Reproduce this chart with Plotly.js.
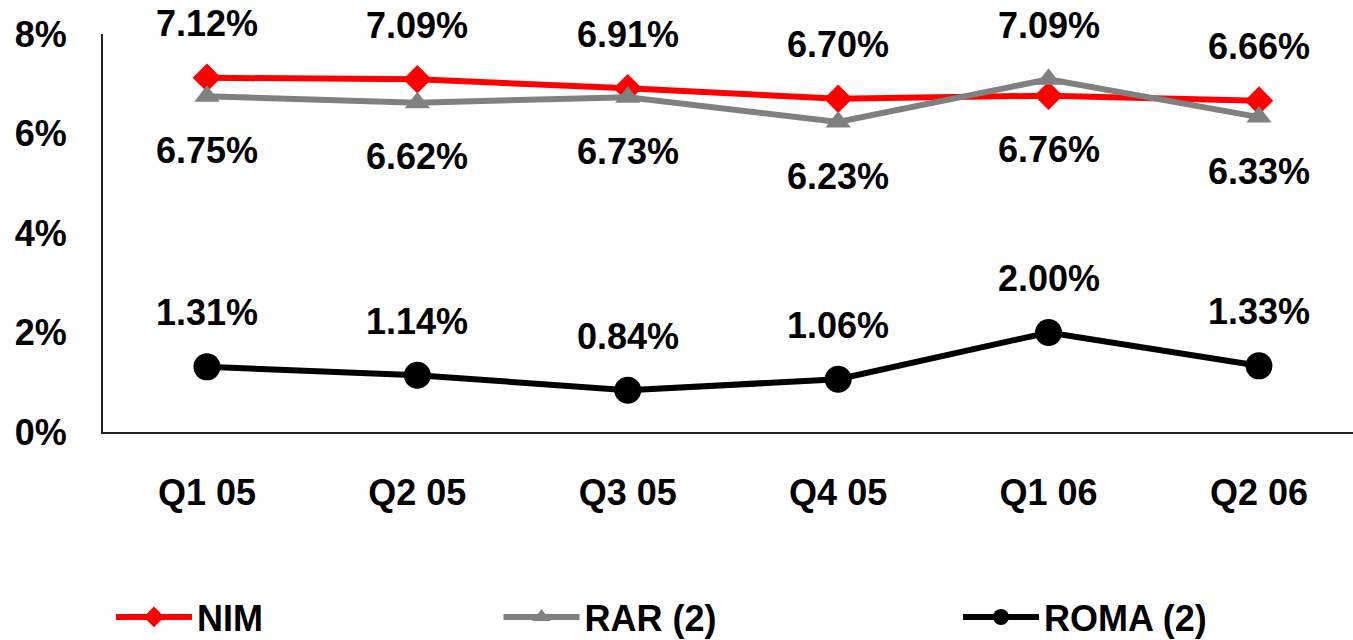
<!DOCTYPE html>
<html>
<head>
<meta charset="utf-8">
<script src="https://cdn.plot.ly/plotly-3.0.1.min.js"></script>
<style>
  html, body { margin: 0; padding: 0; background: #fff; }
  #chart { width: 1353px; height: 640px; }
</style>
</head>
<body>
<div id="chart"></div>
<script>
// Quarterly margin ratios (percent)
const quarters = ['Q1 05', 'Q2 05', 'Q3 05', 'Q4 05', 'Q1 06', 'Q2 06'];
const nim  = [7.12, 7.09, 6.91, 6.70, 6.76, 6.66];
const rar  = [6.75, 6.62, 6.73, 6.23, 7.09, 6.33];
const roma = [1.31, 1.14, 0.84, 1.06, 2.00, 1.33];
const yTickVals = [0, 2, 4, 6, 8];
const yTickText = ['0%', '2%', '4%', '6%', '8%'];

// Label placement per point: +1 above the marker, -1 below
const nimSide  = [1, 1, 1, 1, -1, 1];
const rarSide  = [-1, -1, -1, -1, 1, -1];
const romaSide = [1, 1, 1, 1, 1, 1];

const FONT = 'Liberation Sans, Arial, sans-serif';
const FS = 36;
const LABEL_GAP = 54;

const traces = [
  {
    x: quarters, y: nim, name: 'NIM', type: 'scatter', mode: 'lines+markers',
    line: { color: '#FF0000', width: 6 },
    marker: { symbol: 'diamond', size: 22, color: '#FF0000' },
    legend: 'legend'
  },
  {
    x: quarters, y: rar, name: 'RAR (2)', type: 'scatter', mode: 'lines+markers',
    line: { color: '#808080', width: 6 },
    marker: { symbol: 'triangle-up', size: 22, color: '#808080' },
    legend: 'legend2'
  },
  {
    x: quarters, y: roma, name: 'ROMA (2)', type: 'scatter', mode: 'lines+markers',
    line: { color: '#000000', width: 6 },
    marker: { symbol: 'circle', size: 27, color: '#000000' },
    legend: 'legend3'
  }
];

// Value labels next to each marker
function labels(values, sides) {
  return values.map((v, i) => ({
    x: quarters[i], y: v, xref: 'x', yref: 'y',
    text: v.toFixed(2) + '%',
    showarrow: false,
    yshift: sides[i] * LABEL_GAP,
    font: { family: FONT, size: FS, weight: 'bold', color: '#000' }
  }));
}
const annotations = [].concat(labels(nim, nimSide), labels(rar, rarSide), labels(roma, romaSide));

const legendBase = {
  orientation: 'h', yanchor: 'middle', xanchor: 'left', y: -0.465,
  itemwidth: 76,
  font: { family: FONT, size: FS, weight: 'bold', color: '#000' },
  bgcolor: 'rgba(0,0,0,0)'
};

const layout = {
  width: 1353, height: 640,
  margin: { l: 103, r: 0, t: 34, b: 208, autoexpand: false },
  paper_bgcolor: '#fff', plot_bgcolor: '#fff',
  showlegend: true,
  legend:  Object.assign({}, legendBase, { x: 0.0064 }),
  legend2: Object.assign({}, legendBase, { x: 0.3164 }),
  legend3: Object.assign({}, legendBase, { x: 0.684 }),
  xaxis: {
    type: 'category', range: [-0.494, 5.447],
    showgrid: false, zeroline: false,
    showline: true, linecolor: '#222', linewidth: 2,
    ticks: '', ticklabelstandoff: 28,
    tickfont: { family: FONT, size: FS, weight: 'bold', color: '#000' }
  },
  yaxis: {
    range: [0, 8], showgrid: false, zeroline: false,
    showline: true, linecolor: '#222', linewidth: 2,
    tickvals: yTickVals, ticktext: yTickText,
    ticks: '', ticklabelstandoff: 27,
    tickfont: { family: FONT, size: FS, weight: 'bold', color: '#000' }
  },
  annotations: annotations
};

Plotly.newPlot('chart', traces, layout, { staticPlot: true, displayModeBar: false });
</script>
</body>
</html>
